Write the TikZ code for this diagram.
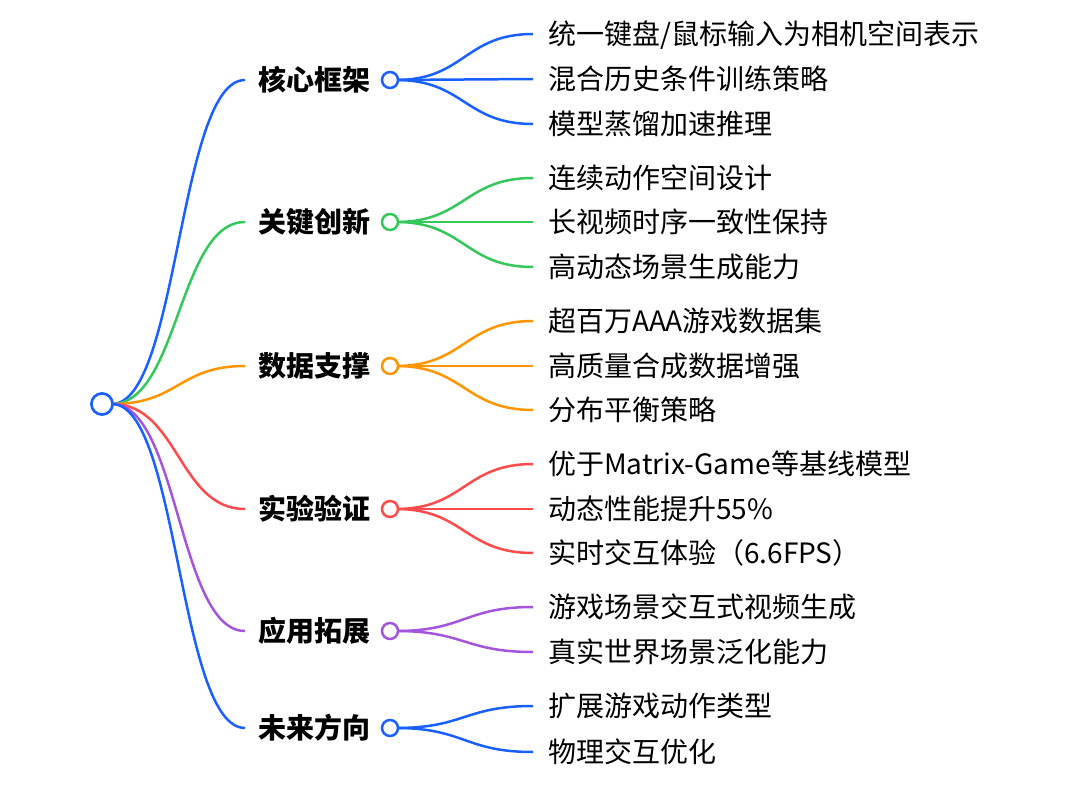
\documentclass[tikz,border=0pt]{standalone}
\usepackage{fontspec}
\setmainfont{Noto Sans CJK SC}
\usetikzlibrary{calc}
\definecolor{cblue}{HTML}{1A5FFF}
\definecolor{cgreen}{HTML}{34C759}
\definecolor{corange}{HTML}{FF9500}
\definecolor{cred}{HTML}{FF4B4B}
\definecolor{cpurple}{HTML}{A455DE}
\begin{document}
\begin{tikzpicture}[x=1pt,y=-1pt,
  edge/.style={line width=2.5pt},
  link/.style={
    to path={let \p1=(\tikztostart),\p2=(\tikztotarget) in
      .. controls ({(\x1+\x2)/2},\y1) and ({(\x1+\x2)/2},\y2) .. (\tikztotarget)}},
  dot/.style={circle,draw,fill=white,line width=2.5pt,inner sep=0pt,minimum size=16pt},
  rootdot/.style={circle,draw=cblue,fill=white,line width=2.5pt,inner sep=0pt,minimum size=21pt},
  blabel/.style={anchor=base west,inner sep=0pt,font=\fontsize{28}{34}\selectfont\bfseries},
  leaf/.style={anchor=base west,inner sep=0pt,font=\fontsize{28}{34}\selectfont}]
\useasboundingbox (0,0) rectangle (1080,794);

% root
\node[rootdot] (root) at (102,404) {};

% branch labels
\node[blabel] (l1) at (258,90.5) {核心框架};
\node[blabel] (l2) at (258,232.5) {关键创新};
\node[blabel] (l3) at (258,376.5) {数据支撑};
\node[blabel] (l4) at (258,519.5) {实验验证};
\node[blabel] (l5) at (258,641.5) {应用拓展};
\node[blabel] (l6) at (258,738.5) {未来方向};

\coordinate (i1) at (245,80);
\coordinate (i2) at (245,222);
\coordinate (i3) at (245,366);
\coordinate (i4) at (245,509);
\coordinate (i5) at (245,631);
\coordinate (i6) at (245,728);

\coordinate (r0) at (112,404);
\draw[edge,cblue] (r0) to[link] (i1);
\draw[edge,cgreen] (r0) to[link] (i2);
\draw[edge,corange] (r0) to[link] (i3);
\draw[edge,cred] (r0) to[link] (i4);
\draw[edge,cpurple] (r0) to[link] (i5);
\draw[edge,cblue] (r0) to[link] (i6);

% leaf end coordinates
\coordinate (e11) at (533,34);
\coordinate (e12) at (533,79);
\coordinate (e13) at (533,124);
\coordinate (e21) at (533,178);
\coordinate (e22) at (533,222);
\coordinate (e23) at (533,267);
\coordinate (e31) at (533,321);
\coordinate (e32) at (533,366);
\coordinate (e33) at (533,410);
\coordinate (e41) at (533,464);
\coordinate (e42) at (533,509);
\coordinate (e43) at (533,553);
\coordinate (e51) at (533,607);
\coordinate (e52) at (533,652);
\coordinate (e61) at (533,706);
\coordinate (e62) at (533,752);

\coordinate (s1) at (396,80);
\coordinate (s2) at (396,222);
\coordinate (s3) at (396,366);
\coordinate (s4) at (396,509);
\coordinate (s5) at (396,631);
\coordinate (s6) at (396,728);

\foreach \e in {e11,e12,e13} \draw[edge,cblue] (s1) to[link] (\e);
\foreach \e in {e21,e22,e23} \draw[edge,cgreen] (s2) to[link] (\e);
\foreach \e in {e31,e32,e33} \draw[edge,corange] (s3) to[link] (\e);
\foreach \e in {e41,e42,e43} \draw[edge,cred] (s4) to[link] (\e);
\foreach \e in {e51,e52} \draw[edge,cpurple] (s5) to[link] (\e);
\foreach \e in {e61,e62} \draw[edge,cblue] (s6) to[link] (\e);

\node[dot,draw=cblue] (c1) at (390,80) {};
\node[dot,draw=cgreen] (c2) at (390,222) {};
\node[dot,draw=corange] (c3) at (390,366) {};
\node[dot,draw=cred] (c4) at (390,509) {};
\node[dot,draw=cpurple] (c5) at (390,631) {};
\node[dot,draw=cblue] (c6) at (390,728) {};
\node[rootdot] at (root) {};

% leaves
\node[leaf] (t11) at (548,44.5) {统一键盘/鼠标输入为相机空间表示};
\node[leaf] (t12) at (548,89.5) {混合历史条件训练策略};
\node[leaf] (t13) at (548,134.5) {模型蒸馏加速推理};
\node[leaf] (t21) at (548,188.5) {连续动作空间设计};
\node[leaf] (t22) at (548,232.5) {长视频时序一致性保持};
\node[leaf] (t23) at (548,277.5) {高动态场景生成能力};
\node[leaf] (t31) at (548,331.5) {超百万AAA游戏数据集};
\node[leaf] (t32) at (548,376.5) {高质量合成数据增强};
\node[leaf] (t33) at (548,420.5) {分布平衡策略};
\node[leaf] (t41) at (548,474.5) {优于Matrix-Game等基线模型};
\node[leaf] (t42) at (548,519.5) {动态性能提升55\%};
\node[leaf] (t43) at (548,563.5) {实时交互体验（6.6FPS）};
\node[leaf] (t51) at (548,617.5) {游戏场景交互式视频生成};
\node[leaf] (t52) at (548,662.5) {真实世界场景泛化能力};
\node[leaf] (t61) at (548,716.5) {扩展游戏动作类型};
\node[leaf] (t62) at (548,762.5) {物理交互优化};
\end{tikzpicture}
\end{document}
